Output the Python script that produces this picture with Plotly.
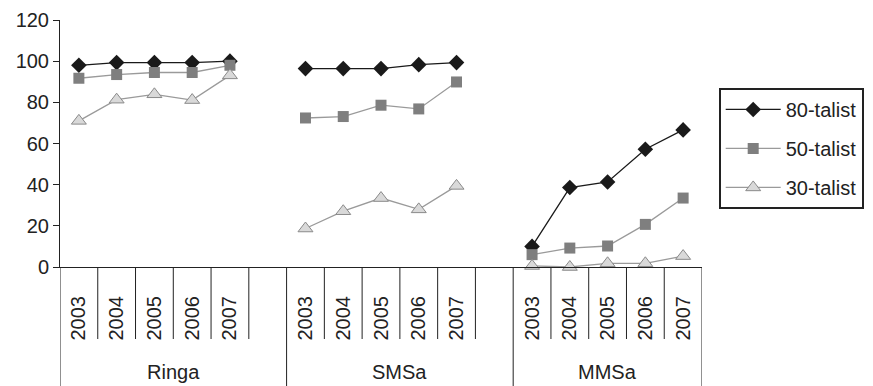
import plotly.graph_objects as go

groups = ["Ringa", "SMSa", "MMSa"]
years = ["2003", "2004", "2005", "2006", "2007"]

p80_ringa = [98, 99.3, 99.3, 99.3, 100]
p80_smsa = [96.4, 96.4, 96.4, 98.3, 99.3]
p80_mmsa = [10, 38.6, 41.3, 57.2, 66.6]

p50_ringa = [91.7, 93.5, 94.5, 94.5, 98]
p50_smsa = [72.4, 73.1, 78.6, 76.8, 89.9]
p50_mmsa = [6, 9.2, 10.2, 20.7, 33.5]

p30_ringa = [71, 81.3, 83.9, 81.1, 93.1]
p30_smsa = [18.7, 27.1, 33.5, 28, 39.4]
p30_mmsa = [0.5, 0, 1.8, 1.8, 5.3]

# category layout: each group = 5 years, Ringa and SMSa followed by one empty slot
group_sizes = [6, 6, 5]
starts = [0, 6, 12]

xs = []
ticktext = []
for s in starts:
    for i, y in enumerate(years):
        xs.append(s + i + 0.5)
        ticktext.append(y)

def build(a, b, c):
    xx, yy = [], []
    for s, vals in zip(starts, [a, b, c]):
        for i, v in enumerate(vals):
            xx.append(s + i + 0.5)
            yy.append(v)
        xx.append(None)
        yy.append(None)
    return xx, yy

FONT = "Liberation Sans, Arial, Helvetica, sans-serif"
fig = go.Figure()

x80, y80 = build(p80_ringa, p80_smsa, p80_mmsa)
x50, y50 = build(p50_ringa, p50_smsa, p50_mmsa)
x30, y30 = build(p30_ringa, p30_smsa, p30_mmsa)

fig.add_trace(go.Scatter(x=x80, y=y80, name="80-talist", mode="lines+markers",
                         line=dict(color="#1a1a1a", width=1.3),
                         marker=dict(symbol="diamond", size=12, color="#1a1a1a"),
                         cliponaxis=False, legendgroup="a"))
fig.add_trace(go.Scatter(x=x50, y=y50, name="50-talist", mode="lines+markers",
                         line=dict(color="#9a9a9a", width=1.3),
                         marker=dict(symbol="square", size=11, color="#7f7f7f"),
                         cliponaxis=False, legendgroup="b"))
fig.add_trace(go.Scatter(x=x30, y=y30, name="30-talist", mode="lines+markers",
                         line=dict(color="#9a9a9a", width=1.3),
                         marker=dict(symbol="triangle-up", size=13, color="#d9d9d9",
                                     line=dict(color="#8a8a8a", width=1)),
                         cliponaxis=False, legendgroup="c"))

shapes = []
ax_y = 267
plot_h = 247
year_bottom = -(339 - ax_y) / plot_h
group_bottom = -(386 - ax_y) / plot_h
boundaries = set([0, 6, 12, 17])
for b in range(0, 18):
    y1 = group_bottom if b in boundaries else year_bottom
    shapes.append(dict(type="line", xref="x", yref="paper", x0=b, x1=b, y0=0, y1=y1,
                       line=dict(color="#222222", width=1)))

annotations = []
for g, s, n in zip(groups, starts, group_sizes):
    annotations.append(dict(x=s + n / 2, y=-(372 - ax_y) / plot_h, xref="x", yref="paper",
                            text=g, showarrow=False, yanchor="middle",
                            font=dict(size=20, color="#222222", family=FONT)))

fig.update_layout(
    width=873, height=386,
    margin=dict(l=60, r=171, t=20, b=119, autoexpand=False),
    paper_bgcolor="white", plot_bgcolor="white",
    font=dict(family=FONT, size=20, color="#222222"),
    shapes=shapes, annotations=annotations,
    xaxis=dict(range=[0, 17], tickvals=xs, ticktext=ticktext, tickangle=-90,
               ticks="", showgrid=False, zeroline=False, showline=True,
               linecolor="#222222", linewidth=1, ticklabelstandoff=20,
               tickfont=dict(size=20), automargin=False),
    yaxis=dict(range=[0, 120], dtick=20, ticks="outside", ticklen=6,
               tickcolor="#222222", showgrid=False, zeroline=False, showline=True,
               linecolor="#222222", linewidth=1, tickfont=dict(size=20),
               automargin=False),
    legend=dict(x=1.026, y=0.725, xanchor="left", yanchor="top",
                bordercolor="#222222", borderwidth=2, bgcolor="white",
                font=dict(size=20), tracegroupgap=10, itemwidth=55),
)

fig.write_html("out.html", config={"displayModeBar": False},
               post_script="document.body.style.margin='0';document.body.style.overflow='hidden';")
